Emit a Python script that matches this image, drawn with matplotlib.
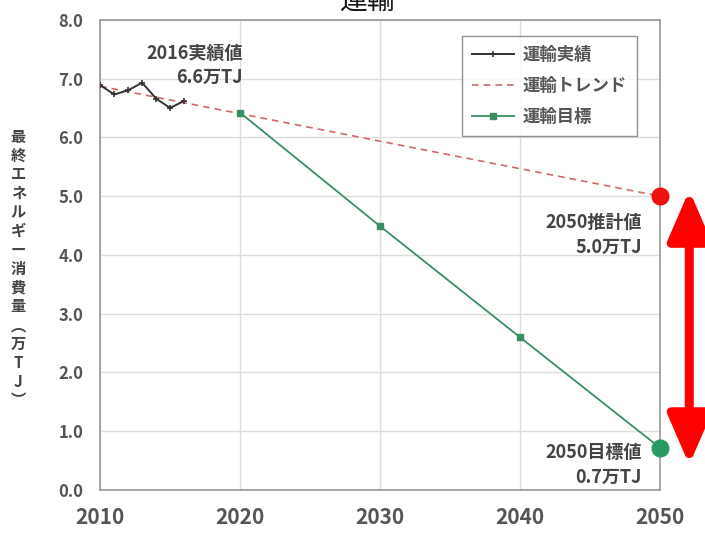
import numpy as np
import matplotlib.pyplot as plt
from matplotlib.patches import FancyArrowPatch

plt.rcParams['font.family'] = ['Noto Sans CJK JP', 'DejaVu Sans']

# 運輸部門の最終エネルギー消費量（万TJ）
actual_years = [2010, 2011, 2012, 2013, 2014, 2015, 2016]
actual_vals = [6.89, 6.73, 6.80, 6.93, 6.66, 6.50, 6.62]

trend_years = [2010, 2050]
trend_vals = [6.87, 5.00]

target_years = [2020, 2030, 2040, 2050]
target_vals = [6.42, 4.49, 2.60, 0.72]

x_ticks = [2010, 2020, 2030, 2040, 2050]
y_ticks = [0, 1, 2, 3, 4, 5, 6, 7, 8]

txt_gray = '#555555'

fig = plt.figure(figsize=(7.05, 5.35), dpi=100)
ax = fig.add_axes([0.142, 0.084, 0.794, 0.879])

ax.plot(actual_years, actual_vals, color='#333333', lw=1.4, marker='+', ms=5, mew=1.2, label='運輸実績', zorder=4)
ax.plot(trend_years, trend_vals, color='#d06a6a', lw=1.2, ls=(0, (4, 3)), label='運輸トレンド', zorder=3)
ax.plot(target_years, target_vals, color='#3a8f62', lw=1.3, marker='s', ms=4, label='運輸目標', zorder=3)

# 2050年の推計値・目標値
ax.plot(trend_years[-1], trend_vals[-1], 'o', color='#ee1111', ms=12, zorder=5, clip_on=False)
ax.plot(target_years[-1], target_vals[-1], 'o', color='#2a9a62', ms=12, zorder=5, clip_on=False)

ax.set_xlim(2010, 2050)
ax.set_ylim(0, 8)
ax.set_xticks(x_ticks)
ax.set_yticks(y_ticks)
ax.set_yticklabels([f'{v:.1f}' for v in y_ticks])
ax.tick_params(length=0, colors=txt_gray)
ax.tick_params(axis='y', labelsize=12, pad=12)
ax.tick_params(axis='x', labelsize=15, pad=12)
for lab in ax.get_xticklabels() + ax.get_yticklabels():
    lab.set_fontweight('bold')
ax.grid(True, color='#dddddd', lw=1)
for s in ax.spines.values():
    s.set_color('#999999')
    s.set_linewidth(1.2)

leg = ax.legend(loc='upper right', bbox_to_anchor=(0.975, 0.985), fontsize=12.5, frameon=True,
                fancybox=False, edgecolor='#777777', handlelength=2.4, handletextpad=0.5,
                labelspacing=0.75, borderpad=0.6)
for t in leg.get_texts():
    t.set_color(txt_gray)
    t.set_fontweight('bold')

ax.text(2020.2, 7.22, '2016実績値\n6.6万TJ', ha='right', va='center', fontsize=13,
        fontweight='bold', color='#444444', linespacing=1.35)
ax.text(2048.7, 4.34, '2050推計値\n5.0万TJ', ha='right', va='center', fontsize=13,
        fontweight='bold', color='#444444', linespacing=1.35)
ax.text(2048.7, 0.43, '2050目標値\n0.7万TJ', ha='right', va='center', fontsize=13,
        fontweight='bold', color='#444444', linespacing=1.35)

# 推計値と目標値の差を示す矢印
arrow = FancyArrowPatch((2052.1, 5.1), (2052.1, 0.43), arrowstyle='<|-|>,head_length=1.5,head_width=0.65',
                        mutation_scale=20, lw=6.5, color='#ff0000', shrinkA=0, shrinkB=0, clip_on=False)
ax.add_patch(arrow)

ylabel = '最終エネルギー消費量︵万TJ︶'
fig.text(0.026, 0.498, '\n'.join(ylabel), ha='center', va='center', fontsize=11,
         fontweight='bold', color='#444444', linespacing=1.22)

fig.text(0.522, 0.998, '運輸', ha='center', va='center', fontsize=20, color='#111111')

fig.savefig('out.png', dpi=100)
